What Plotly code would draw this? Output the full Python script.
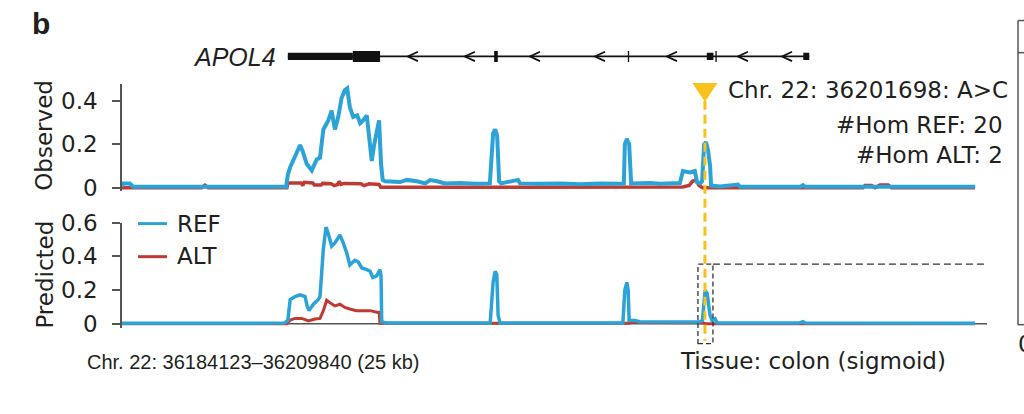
import plotly.graph_objects as go

W, H = 1024, 414


def fy(p):
    return 1 - p / H


def fx(p):
    return p / W


# ---------------- data ----------------
REGION_LABEL = "Chr. 22: 36184123\u201336209840 (25 kb)"
TISSUE_LABEL = "Tissue: colon (sigmoid)"
VARIANT_LABEL = "Chr. 22: 36201698: A>C"
HOM_REF_LABEL = "#Hom REF: 20"
HOM_ALT_LABEL = "#Hom ALT: 2"
GENE_NAME = "APOL4"
region_start = 36184123
region_end = 36209840
variant_pos = 36201698
variant_kb = (variant_pos - region_start) / 1000.0

# positions in kb from region start
obs_ref_x = [0.0, 0.03, 0.24, 0.33, 2.0, 4.0, 4.95, 5.00, 5.07, 5.22, 5.37, 5.45, 5.57, 5.72,
             5.87, 5.97, 6.07, 6.22, 6.32, 6.42, 6.52, 6.62, 6.72, 6.79, 6.87, 6.97, 7.09,
             7.18, 7.27, 7.38, 7.48, 7.53, 7.60, 7.68, 7.75, 7.81, 7.86, 7.93, 8.38, 8.59,
             8.89, 9.14, 9.29, 9.50, 9.74, 10.19, 10.64, 11.09, 11.13, 11.19, 11.25, 11.31,
             11.37, 11.43, 11.94, 12.0, 12.6, 13.21, 13.81, 14.41, 15.01, 15.13, 15.16, 15.22,
             15.29, 15.35, 15.92, 16.22, 16.82, 16.87, 16.91, 17.12, 17.27, 17.34, 17.43,
             17.49, 17.55, 17.61, 17.67, 17.73, 17.76, 18.03, 18.57, 18.63, 19.24, 20.44,
             20.53, 20.6, 22.34, 24.06, 25.72]
obs_ref_y = [0.004, 0.02, 0.02, 0.005, 0.004, 0.003, 0.004, 0.06, 0.094, 0.145, 0.196, 0.167,
             0.109, 0.08, 0.13, 0.138, 0.268, 0.31, 0.355, 0.268, 0.326, 0.413, 0.449, 0.457,
             0.37, 0.326, 0.333, 0.297, 0.31, 0.333, 0.196, 0.123, 0.196, 0.253, 0.31, 0.109,
             0.036, 0.03, 0.026, 0.036, 0.03, 0.02, 0.035, 0.03, 0.02, 0.022, 0.018, 0.02, 0.1,
             0.25, 0.268, 0.24, 0.03, 0.02, 0.036, 0.02, 0.018, 0.02, 0.016, 0.02, 0.018, 0.02,
             0.2, 0.225, 0.2, 0.02, 0.022, 0.018, 0.022, 0.06, 0.077, 0.07, 0.077, 0.025, 0.02,
             0.03, 0.2, 0.21, 0.17, 0.1, 0.01, 0.006, 0.015, 0.005, 0.004, 0.004, 0.012, 0.004,
             0.004, 0.004, 0.004]

obs_alt_x = [0.0, 2.4, 2.5, 2.6, 4.97, 5.0, 5.4, 5.45, 5.5, 5.75, 5.8, 6.0, 6.05, 6.3, 6.4,
             6.5, 6.55, 6.6, 6.7, 7.2, 7.3, 7.45, 7.75, 7.8, 16.9, 17.1, 17.2, 17.3, 17.4,
             17.5, 22.34, 22.4, 22.6, 22.7, 22.85, 23.1, 23.2, 25.72]
obs_alt_y = [0.0, 0.0, 0.012, 0.0, 0.0, 0.022, 0.022, 0.01, 0.025, 0.022, 0.012, 0.012, 0.02,
             0.018, 0.01, 0.015, 0.03, 0.015, 0.02, 0.018, 0.01, 0.018, 0.015, 0.002, 0.003,
             0.01, 0.03, 0.035, 0.01, 0.0, 0.0, 0.01, 0.01, 0.0, 0.012, 0.012, 0.0, 0.0]

pred_ref_x = [0.0, 4.9, 5.0, 5.07, 5.22, 5.37, 5.52, 5.58, 5.64, 5.77, 5.92, 5.97, 6.07, 6.15,
              6.22, 6.32, 6.42, 6.57, 6.67, 6.77, 6.87, 7.02, 7.12, 7.23, 7.38, 7.48, 7.56,
              7.68, 7.78, 7.81, 7.83, 7.98, 9.0, 11.1, 11.19, 11.25, 11.3, 11.34, 11.4, 15.1,
              15.16, 15.22, 15.26, 15.29, 15.47, 15.6, 17.4, 17.5, 17.58, 17.64, 17.73, 17.79,
              17.88, 17.94, 20.4, 20.53, 20.6, 25.72]
pred_ref_y = [0.003, 0.004, 0.02, 0.144, 0.162, 0.172, 0.162, 0.106, 0.078, 0.116, 0.144, 0.162,
              0.443, 0.573, 0.536, 0.461, 0.48, 0.527, 0.48, 0.424, 0.349, 0.377, 0.368, 0.331,
              0.321, 0.312, 0.275, 0.284, 0.321, 0.284, 0.013, 0.004, 0.005, 0.005, 0.25, 0.312,
              0.29, 0.05, 0.005, 0.005, 0.2, 0.246, 0.2, 0.02, 0.02, 0.012, 0.01, 0.02, 0.2, 0.18,
              0.05, 0.02, 0.03, 0.005, 0.004, 0.012, 0.004, 0.003]

pred_alt_x = [0.0, 4.97, 5.07, 5.22, 5.42, 5.62, 5.82, 5.97, 6.07, 6.17, 6.27, 6.42, 6.57, 6.72,
              6.87, 7.07, 7.27, 7.48, 7.68, 7.75, 7.78, 15.3, 15.4, 15.6, 17.5, 17.6, 25.72]
pred_alt_y = [0.0, 0.0, 0.022, 0.032, 0.032, 0.017, 0.028, 0.032, 0.078, 0.14, 0.125, 0.106,
              0.116, 0.097, 0.088, 0.078, 0.078, 0.078, 0.069, 0.069, 0.003, 0.003, 0.012,
              0.008, 0.006, 0.0, 0.0]

# gene model (kb from region start)
gene_start, gene_end = 5.00, 20.72
exon_starts = [5.00, 6.96, 11.22, 15.25, 17.63, 17.89, 20.54]
exon_ends = [6.96, 7.78, 11.33, 15.29, 17.83, 17.93, 20.72]
exon_types = ["utr", "cds", "cds", "cds", "utr", "cds", "utr"]
strand_arrows = [8.62, 10.34, 12.30, 14.26, 16.43, 18.57, 19.90]

obs_ticks = [0, 0.2, 0.4]
pred_ticks = [0, 0.2, 0.4, 0.6]

# ---------------- style ----------------
BLUE = "#2ba3d7"
RED = "#bf3a33"
YELLOW = "#f8c21a"
TXT = "#231f20"
AX = "#555555"
FONT = "DejaVu Sans"
FS = 23

x_domain = [fx(122), fx(987)]
x_range = [0, (987 - 122) * 25.717 / 853]
px_per_kb = 853 / 25.717

fig = go.Figure()
fig.add_trace(go.Scatter(x=obs_alt_x, y=obs_alt_y, mode="lines", line=dict(color=RED, width=3.5),
                         xaxis="x", yaxis="y", showlegend=False))
fig.add_trace(go.Scatter(x=obs_ref_x, y=obs_ref_y, mode="lines", line=dict(color=BLUE, width=4),
                         xaxis="x", yaxis="y", showlegend=False))
fig.add_trace(go.Scatter(x=pred_alt_x, y=pred_alt_y, mode="lines", line=dict(color=RED, width=3),
                         xaxis="x2", yaxis="y2", showlegend=False))
fig.add_trace(go.Scatter(x=pred_ref_x, y=pred_ref_y, mode="lines", line=dict(color=BLUE, width=3.5),
                         xaxis="x2", yaxis="y2", showlegend=False))

yax = dict(showgrid=False, zeroline=False, showline=True, linecolor=AX, linewidth=1.5,
           ticks="outside", ticklen=8, tickwidth=1.5, tickcolor=AX,
           tickfont=dict(family=FONT, size=FS, color=TXT), ticklabelstandoff=10,
           fixedrange=True)

shapes = []
# gene track
shapes.append(dict(type="line", xref="x", yref="y3", x0=gene_start, x1=gene_end, y0=0, y1=0,
                   line=dict(color="#111111", width=1.8)))
half = {"utr": 0.24, "cds": 0.36}
for s, e, t in zip(exon_starts, exon_ends, exon_types):
    shapes.append(dict(type="rect", xref="x", yref="y3", x0=s, x1=e, y0=-half[t], y1=half[t],
                       fillcolor="#111111", line=dict(width=0)))
chev_w = 10 / px_per_kb
for a in strand_arrows:
    shapes.append(dict(type="path", xref="x", yref="y3",
                       path=f"M{a + chev_w},0.31 L{a},0 L{a + chev_w},-0.31",
                       line=dict(color="#111111", width=1.8)))

# variant marker and line
tri_w = 12.5 / px_per_kb
shapes.append(dict(type="path", xref="x", yref="paper",
                   path=f"M{variant_kb - tri_w},{fy(74)} L{variant_kb + tri_w},{fy(74)} L{variant_kb},{fy(94)} Z",
                   fillcolor=YELLOW, line=dict(width=0)))
shapes.append(dict(type="line", xref="x", yref="paper", x0=variant_kb, x1=variant_kb,
                   y0=fy(93), y1=fy(347), line=dict(color=YELLOW, width=3, dash="9px,5px")))
# predicted baseline
shapes.append(dict(type="line", xref="x2", yref="y2", x0=0, x1=x_range[1], y0=0, y1=0,
                   line=dict(color=AX, width=1.5), layer="below"))
# zoom box
bx0 = variant_kb - 7 / px_per_kb
bx1 = variant_kb + 8 / px_per_kb
shapes.append(dict(type="rect", xref="x2", yref="paper", x0=bx0, x1=bx1, y0=fy(350), y1=fy(266),
                   line=dict(color="#333333", width=1.3, dash="5px,3px")))
shapes.append(dict(type="line", xref="x2", yref="paper", x0=bx1, x1=x_range[1] + (1018 - 987) / px_per_kb,
                   y0=fy(266), y1=fy(266), line=dict(color="#333333", width=1.3, dash="7px,4px")))
# right neighbour panel frame
shapes.append(dict(type="line", xref="paper", yref="paper", x0=fx(1018), x1=fx(1018), y0=fy(8), y1=fy(330),
                   line=dict(color=AX, width=1.5)))
for yy in (8, 42, 330):
    shapes.append(dict(type="line", xref="paper", yref="paper", x0=fx(1018), x1=fx(1025), y0=fy(yy), y1=fy(yy),
                       line=dict(color=AX, width=1.5)))
# legend samples
shapes.append(dict(type="line", xref="paper", yref="paper", x0=fx(138), x1=fx(167), y0=fy(223), y1=fy(223),
                   line=dict(color=BLUE, width=3)))
shapes.append(dict(type="line", xref="paper", yref="paper", x0=fx(138), x1=fx(167), y0=fy(258), y1=fy(258),
                   line=dict(color=RED, width=3)))


def ann(text, x, y, xanchor="left", size=FS, family=FONT, angle=0, color=TXT):
    return dict(text=text, xref="paper", yref="paper", x=fx(x), y=fy(y), xanchor=xanchor,
                yanchor="middle", showarrow=False, textangle=angle,
                font=dict(family=family, size=size, color=color))


annotations = [
    ann("<b>b</b>", 30, 11, size=30, family="Liberation Sans"),
    ann(f"<i>{GENE_NAME}</i>", 278, 47, xanchor="right", size=25, family="Liberation Sans"),
    ann(VARIANT_LABEL, 726, 82),
    ann(HOM_REF_LABEL, 1005, 119, xanchor="right"),
    ann(HOM_ALT_LABEL, 1005, 150, xanchor="right"),
    ann("Observed", 44, 130, xanchor="center", angle=-90),
    ann("Predicted", 45, 277, xanchor="center", angle=-90),
    ann("REF", 175, 223),
    ann("ALT", 175, 257),
    ann(REGION_LABEL, 85, 369, size=20, family="Liberation Sans"),
    ann(TISSUE_LABEL, 678, 368),
    ann("0", 1016, 350),
]

fig.update_layout(
    width=W, height=H, margin=dict(l=0, r=0, t=0, b=0),
    paper_bgcolor="white", plot_bgcolor="rgba(0,0,0,0)",
    showlegend=False,
    xaxis=dict(domain=x_domain, range=x_range, visible=False, fixedrange=True),
    xaxis2=dict(domain=x_domain, range=x_range, visible=False, fixedrange=True, matches="x"),
    yaxis=dict(domain=[fy(188), fy(75)], range=[-0.013, 0.478], anchor="x",
               tickvals=obs_ticks, ticktext=["0", "0.2", "0.4"], **yax),
    yaxis2=dict(domain=[fy(333), fy(222)], range=[-0.022, 0.6], anchor="x2",
                tickvals=pred_ticks, ticktext=["0", "0.2", "0.4", "0.6"], **yax),
    yaxis3=dict(domain=[fy(62), fy(30)], range=[-1, 1], anchor="x", visible=False, fixedrange=True),
    shapes=shapes,
    annotations=annotations,
)

fig.write_html("out.html")
